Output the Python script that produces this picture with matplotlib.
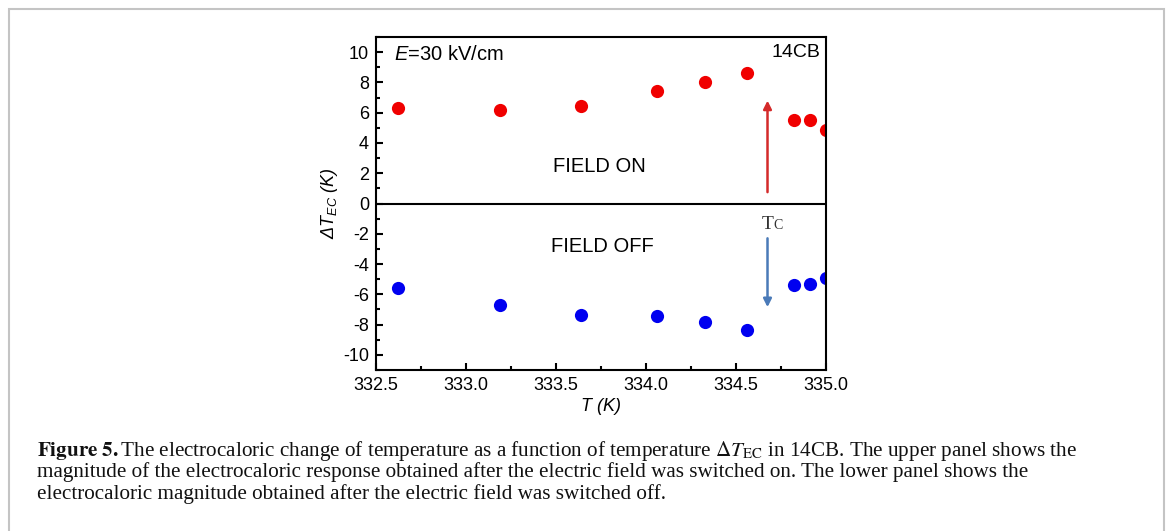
import matplotlib
matplotlib.use("Agg")
import matplotlib.pyplot as plt
from matplotlib.patches import Rectangle
from matplotlib.ticker import MultipleLocator, FormatStrFormatter

plt.rcParams["font.family"] = ["Liberation Sans", "DejaVu Sans"]
plt.rcParams["mathtext.fontset"] = "custom"
plt.rcParams["mathtext.rm"] = "Liberation Sans"
plt.rcParams["mathtext.it"] = "Liberation Sans:italic"
plt.rcParams["mathtext.bf"] = "Liberation Sans:bold"
plt.rcParams["axes.unicode_minus"] = False

# temperature (K) and electrocaloric change (K)
T_on = [332.62, 333.19, 333.64, 334.06, 334.33, 334.56, 334.82, 334.91, 335.0]
dT_on = [6.28, 6.15, 6.41, 7.40, 8.00, 8.64, 5.55, 5.55, 4.85]
T_off = [332.62, 333.19, 333.64, 334.06, 334.33, 334.56, 334.82, 334.91, 335.0]
dT_off = [-5.60, -6.72, -7.36, -7.40, -7.82, -8.33, -5.37, -5.33, -4.91]
T_c = 334.675

caption = [
    (r"$\mathbf{Figure\ 5.}$The electrocaloric change of temperature as a function of temperature "
     r"$\Delta T_{\mathrm{EC}}$ in 14CB. The upper panel shows the"),
    "magnitude of the electrocaloric response obtained after the electric field was switched on. "
    "The lower panel shows the",
    "electrocaloric magnitude obtained after the electric field was switched off.",
]

fig = plt.figure(figsize=(11.68, 5.31), dpi=100)
ax = fig.add_axes([0.3219, 0.3032, 0.3853, 0.6271])

ax.plot(T_on, dT_on, "o", color="#f00000", ms=9.5, mec="none")
ax.plot(T_off, dT_off, "o", color="#0000f0", ms=9.5, mec="none")
ax.axhline(0, color="black", lw=1.5)

ax.annotate("", xy=(T_c, 6.8), xytext=(T_c, 0.75),
            arrowprops=dict(arrowstyle="-|>", color="#d42a2a", lw=1.8,
                            mutation_scale=12, shrinkA=0, shrinkB=0))
ax.annotate("", xy=(T_c, -6.85), xytext=(T_c, -2.3),
            arrowprops=dict(arrowstyle="-|>", color="#4a7ab8", lw=1.8,
                            mutation_scale=12, shrinkA=0, shrinkB=0))
ax.text(334.708, -1.67, "T", ha="right", va="baseline", fontsize=14,
        family="Liberation Serif", color="#333333")
ax.text(334.708, -1.67, "C", ha="left", va="baseline", fontsize=10,
        family="Liberation Serif", color="#333333")

ax.text(333.74, 2.47, "FIELD ON", ha="center", va="center", fontsize=14.5)
ax.text(333.76, -2.84, "FIELD OFF", ha="center", va="center", fontsize=14.5)
ax.text(332.6, 9.85, r"$\mathit{E}$=30 kV/cm", ha="left", va="center", fontsize=14.5)
ax.text(334.97, 10.0, "14CB", ha="right", va="center", fontsize=14)

ax.set_xlim(332.5, 335.0)
ax.set_ylim(-11, 11)
ax.xaxis.set_major_locator(MultipleLocator(0.5))
ax.xaxis.set_minor_locator(MultipleLocator(0.25))
ax.xaxis.set_major_formatter(FormatStrFormatter("%.1f"))
ax.yaxis.set_major_locator(MultipleLocator(2))
ax.yaxis.set_minor_locator(MultipleLocator(1))
ax.tick_params(which="both", direction="in", width=1.5, labelsize=13)
ax.tick_params(which="major", length=5, pad=5)
ax.tick_params(which="minor", length=3)
for s in ax.spines.values():
    s.set_linewidth(1.5)

ax.set_xlabel("T (K)", fontsize=13, fontstyle="italic", labelpad=3)
ax.set_ylabel(r"ΔT$_{EC}$ (K)", fontsize=13, fontstyle="italic", labelpad=2)

# outer frame of the figure box
fig.patches.append(Rectangle((9 / 1168, -0.01), (1164 - 9) / 1168, 1 - 9 / 531 + 0.01,
                             transform=fig.transFigure, fill=False,
                             edgecolor="#c4c4c4", lw=1.5))

for i, line in enumerate(caption):
    fig.text(37 / 1168, 1 - (456 + 21.5 * i) / 531, line, ha="left", va="baseline",
             fontsize=15.2, family="Liberation Serif", math_fontfamily="stix",
             color="#111111")

fig.savefig("out.png", dpi=100)
